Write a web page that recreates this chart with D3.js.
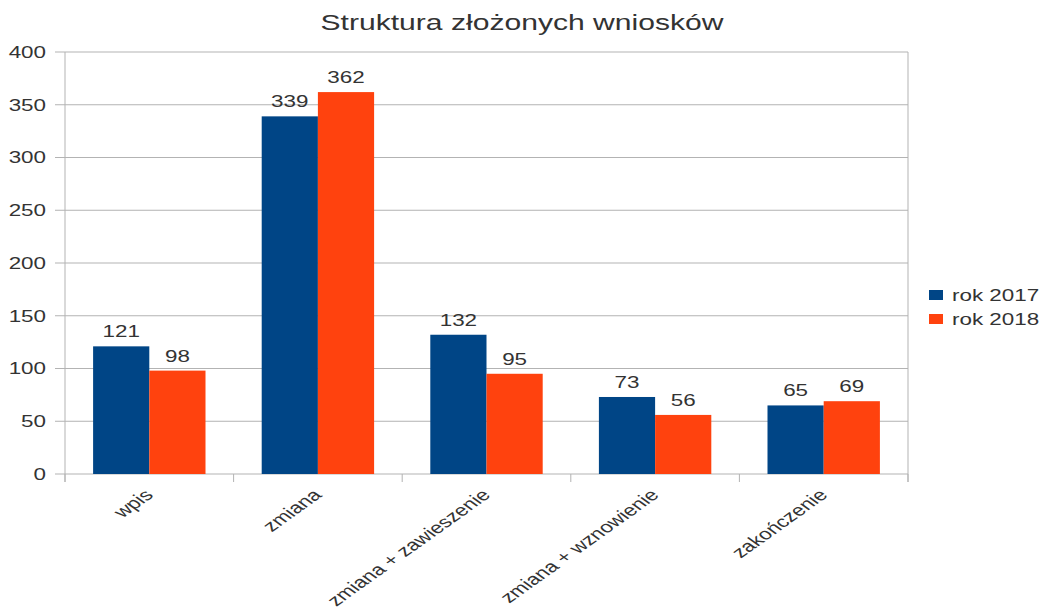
<!DOCTYPE html>
<html>
<head>
<meta charset="utf-8">
<script src="https://cdn.jsdelivr.net/npm/d3@7"></script>
<style>
  body { margin: 0; background: #fff; }
  text { font-family: "Liberation Sans", Arial, sans-serif; fill: #333; }
</style>
</head>
<body>
<div id="chart"></div>
<script>
// DATA
let categories = ["wpis", "zmiana", "zmiana + zawieszenie", "zmiana + wznowienie", "zakończenie"];
let seriesNames = ["rok 2017", "rok 2018"];
let values2017 = [121, 339, 132, 73, 65];
let values2018 = [98, 362, 95, 56, 69];
let yTicks = [0, 50, 100, 150, 200, 250, 300, 350, 400];
let colors = ["#004586", "#ff420e"];

let w = 1042, h = 607;
let padLeft = 65, padRight = 908, padTop = 52, padBottom = 474;
let sx = 1.4; // the picture is stretched sideways, text too

let svg = d3.select("#chart").append("svg")
    .attr("width", w)
    .attr("height", h);

let x0 = d3.scaleBand()
    .domain(categories)
    .range([padLeft, padRight])
    .paddingInner(1/3)
    .paddingOuter(1/6);

let x1 = d3.scaleBand()
    .domain(seriesNames)
    .range([0, x0.bandwidth()]);

let y = d3.scaleLinear()
    .domain([0, 400])
    .range([padBottom, padTop]);

let place = (px, py) => "translate(" + px + "," + py + ") scale(" + sx + ",1)";

//Gridlines
svg.append("g")
    .selectAll("line")
    .data(yTicks)
    .enter().append("line")
    .attr("x1", padLeft - 10)
    .attr("x2", padRight)
    .attr("y1", d => y(d))
    .attr("y2", d => y(d))
    .attr("stroke", "#b3b3b3")
    .attr("stroke-width", 1);

//Y tick labels
svg.append("g")
    .selectAll("text")
    .data(yTicks)
    .enter().append("text")
    .attr("transform", d => place(46, y(d)))
    .attr("text-anchor", "end")
    .attr("dominant-baseline", "central")
    .attr("font-size", 16)
    .text(d => d);

//Axis lines
svg.append("line")
    .attr("x1", padLeft).attr("x2", padLeft)
    .attr("y1", padTop).attr("y2", padBottom + 8)
    .attr("stroke", "#b3b3b3");
svg.append("line")
    .attr("x1", padRight).attr("x2", padRight)
    .attr("y1", padTop).attr("y2", padBottom + 8)
    .attr("stroke", "#b3b3b3");

// category boundary ticks
let step = x0.step();
let bounds = d3.range(categories.length + 1).map(i => padLeft + i * step);
svg.append("g")
    .selectAll("line")
    .data(bounds)
    .enter().append("line")
    .attr("x1", d => d).attr("x2", d => d)
    .attr("y1", padBottom).attr("y2", padBottom + 8)
    .attr("stroke", "#b3b3b3");

//Bars
let rows = categories.map((c, i) => ({cat: c, vals: [values2017[i], values2018[i]]}));

let groups = svg.selectAll("g.group")
    .data(rows)
    .enter().append("g")
    .attr("class", "group")
    .attr("transform", d => "translate(" + x0(d.cat) + ",0)");

groups.selectAll("rect")
    .data(d => d.vals.map((v, i) => ({name: seriesNames[i], value: v, i: i})))
    .enter().append("rect")
    .attr("x", d => x1(d.name))
    .attr("y", d => y(d.value))
    .attr("width", x1.bandwidth())
    .attr("height", d => padBottom - y(d.value))
    .attr("fill", d => colors[d.i]);

groups.selectAll("text.val")
    .data(d => d.vals.map((v, i) => ({name: seriesNames[i], value: v, i: i})))
    .enter().append("text")
    .attr("class", "val")
    .attr("transform", d => place(x1(d.name) + x1.bandwidth() / 2, y(d.value) - 9))
    .attr("text-anchor", "middle")
    .attr("font-size", 16)
    .text(d => d.value);

//X labels rotated
svg.append("g")
    .selectAll("text")
    .data(categories)
    .enter().append("text")
    .attr("transform", d => place(x0(d) + x0.bandwidth() / 2 + 5, padBottom + 22) + " rotate(-45)")
    .attr("text-anchor", "end")
    .attr("font-size", 16)
    .text(d => d);

//Title
svg.append("text")
    .attr("transform", place(522, 30))
    .attr("text-anchor", "middle")
    .attr("font-size", 21.5)
    .text("Struktura złożonych wniosków");

//LEGEND
let legend = svg.append("g")
    .attr("transform", "translate(929,290)");

legend.selectAll("rect")
    .data(seriesNames)
    .enter().append("rect")
    .attr("y", (d, i) => i * 24)
    .attr("width", 14)
    .attr("height", 10)
    .attr("fill", (d, i) => colors[i]);

legend.selectAll("text")
    .data(seriesNames)
    .enter().append("text")
    .attr("transform", (d, i) => place(23, i * 24 + 5))
    .attr("dominant-baseline", "central")
    .attr("font-size", 16)
    .text(d => d);
</script>
</body>
</html>
